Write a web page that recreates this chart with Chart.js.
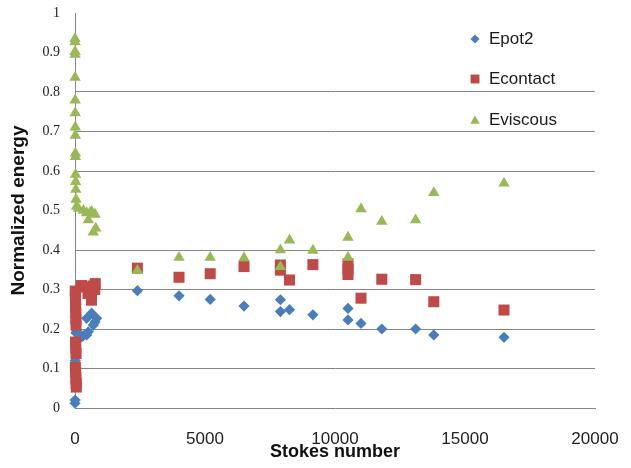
<!DOCTYPE html>
<html>
<head>
<meta charset="utf-8">
<script src="https://cdn.jsdelivr.net/npm/chart.js@4/dist/chart.umd.min.js"></script>
<style>
  html, body { margin: 0; padding: 0; background: #ffffff; }
  #wrap { width: 631px; height: 468px; }
</style>
</head>
<body>
<div id="wrap"><canvas id="chart" width="631" height="468"></canvas></div>
<script>
// Normalized energy components versus Stokes number

const seriesNames = ['Epot2', 'Econtact', 'Eviscous'];

const epot2Stokes = [2, 5, 10, 40, 65, 260, 320, 450, 450, 510, 640, 705, 770, 835,
  2400, 4000, 5200, 6500, 7900, 7900, 8250, 9150, 10500, 10500, 11000, 11800, 13100, 13800, 16500];
const epot2Energy = [0.012, 0.02, 0.12, 0.19, 0.195, 0.18, 0.183, 0.185, 0.227, 0.193, 0.24, 0.21, 0.218, 0.227,
  0.297, 0.284, 0.275, 0.258, 0.274, 0.244, 0.249, 0.236, 0.252, 0.223, 0.214, 0.2, 0.2, 0.185, 0.179];

const econtactStokes = [10, 15, 20, 25, 30, 35, 40, 20, 30, 40, 15, 25, 35, 45, 50,
  250, 385, 500, 635, 690, 760, 780,
  2400, 4000, 5200, 6500, 7900, 7900, 8250, 9150, 10500, 10500, 10500, 11000, 11800, 13100, 13800, 16500];
const econtactEnergy = [0.296, 0.285, 0.27, 0.255, 0.24, 0.225, 0.21, 0.167, 0.152, 0.138, 0.103, 0.09, 0.075, 0.062, 0.053,
  0.31, 0.306, 0.29, 0.273, 0.309, 0.30, 0.315,
  0.354, 0.331, 0.34, 0.358, 0.362, 0.349, 0.324, 0.363, 0.365, 0.35, 0.338, 0.278, 0.326, 0.325, 0.269, 0.248];

const eviscousStokes = [1, 2, 3, 4, 5, 6, 8, 10, 12, 15, 18, 20, 25, 30, 40, 60, 130, 320, 450, 580, 640, 770, 510, 700, 800,
  2400, 4000, 5200, 6500, 7900, 7900, 8250, 9150, 10500, 10500, 11000, 11800, 13100, 13800, 16500];
const eviscousEnergy = [0.935, 0.927, 0.902, 0.895, 0.837, 0.779, 0.747, 0.711, 0.69, 0.645, 0.636, 0.591, 0.573, 0.553, 0.528, 0.51, 0.505, 0.50, 0.494, 0.495, 0.497, 0.49, 0.476, 0.445, 0.455,
  0.348, 0.381, 0.381, 0.38, 0.40, 0.358, 0.425, 0.399, 0.432, 0.381, 0.504, 0.472, 0.476, 0.545, 0.569];

const xTickValues = [0, 5000, 10000, 15000, 20000];
const yTickValues = [0, 0.1, 0.2, 0.3, 0.4, 0.5, 0.6, 0.7, 0.8, 0.9, 1];
// horizontal guide lines that are left out
const hiddenGridValues = [0, 0.5, 0.9, 1];

const toPoints = (xs, ys) => xs.map((x, i) => ({ x: x, y: ys[i] }));

const colors = { blue: '#4A7EBB', red: '#BE4B48', green: '#98B954' };
const gridColor = '#868686';

const legendPlugin = {
  id: 'sideLegend',
  afterDraw(chart) {
    const ctx = chart.ctx;
    const entries = [
      { ds: chart.data.datasets[0], y: 39 },
      { ds: chart.data.datasets[1], y: 79 },
      { ds: chart.data.datasets[2], y: 120 }
    ];
    ctx.save();
    entries.forEach(e => {
      const r = e.ds.pointStyle === 'rectRot' ? 4.5 : (e.ds.pointStyle === 'rect' ? 6.3 : 5.5);
      ctx.fillStyle = e.ds.backgroundColor;
      ctx.strokeStyle = e.ds.backgroundColor;
      ctx.lineWidth = 0;
      Chart.helpers.drawPoint(ctx, { pointStyle: e.ds.pointStyle, radius: r, borderWidth: 0, rotation: 0 }, 475, e.y + (e.ds.pointStyle === 'triangle' ? 1 : 0));
      ctx.fillStyle = '#1a1a1a';
      ctx.font = '17px "Liberation Sans", Arial, sans-serif';
      ctx.textBaseline = 'middle';
      ctx.textAlign = 'left';
      ctx.fillText(e.ds.label, 489, e.y);
    });
    ctx.restore();
  }
};

new Chart(document.getElementById('chart'), {
  type: 'scatter',
  data: {
    datasets: [
      {
        label: seriesNames[0],
        data: toPoints(epot2Stokes, epot2Energy),
        pointStyle: 'rectRot',
        pointRadius: 5.6,
        pointHoverRadius: 5.6,
        backgroundColor: colors.blue,
        borderColor: colors.blue,
        borderWidth: 0,
        order: 3,
        clip: false
      },
      {
        label: seriesNames[1],
        data: toPoints(econtactStokes, econtactEnergy),
        pointStyle: 'rect',
        pointRadius: 7.8,
        pointHoverRadius: 7.8,
        backgroundColor: colors.red,
        borderColor: colors.red,
        borderWidth: 0,
        order: 2,
        clip: false
      },
      {
        label: seriesNames[2],
        data: toPoints(eviscousStokes, eviscousEnergy),
        pointStyle: 'triangle',
        pointRadius: 6.6,
        pointHoverRadius: 6.6,
        backgroundColor: colors.green,
        borderColor: colors.green,
        borderWidth: 0,
        order: 1,
        clip: false
      }
    ]
  },
  options: {
    responsive: false,
    animation: false,
    devicePixelRatio: 1,
    events: [],
    layout: { padding: { left: 0, right: 36, top: 13, bottom: 0 } },
    plugins: {
      legend: { display: false },
      tooltip: { enabled: false }
    },
    scales: {
      x: {
        type: 'linear',
        min: xTickValues[0],
        max: xTickValues[xTickValues.length - 1],
        afterBuildTicks(scale) { scale.ticks = xTickValues.map(v => ({ value: v })); },
        afterFit(scale) {
          scale.height = 60;
          scale.paddingLeft = 0;
          scale.paddingRight = 0;
        },
        ticks: {
          padding: 21,
          color: '#222222',
          font: { family: '"Liberation Sans", Arial, sans-serif', size: 17 },
          callback: v => String(v),
          maxRotation: 0
        },
        grid: { display: false, drawTicks: false },
        border: { display: true, color: gridColor, width: 1 },
        title: {
          display: true,
          text: 'Stokes number',
          color: '#111111',
          font: { family: '"Liberation Sans", Arial, sans-serif', size: 18, weight: 'bold' },
          padding: { top: 0, bottom: 5 }
        }
      },
      y: {
        type: 'linear',
        min: yTickValues[0],
        max: yTickValues[yTickValues.length - 1],
        afterBuildTicks(scale) { scale.ticks = yTickValues.map(v => ({ value: v })); },
        afterFit(scale) {
          scale.width = 75;
          scale.paddingTop = 0;
          scale.paddingBottom = 0;
        },
        ticks: {
          padding: 15,
          color: '#222222',
          font: { family: '"Liberation Serif", "Times New Roman", serif', size: 14 },
          callback: v => String(Math.round(v * 10) / 10)
        },
        grid: {
          drawTicks: false,
          lineWidth: 1,
          color: (c) => {
            const v = c.tick ? c.tick.value : null;
            if (v === null) return gridColor;
            return hiddenGridValues.some(h => Math.abs(h - v) < 1e-9) ? 'rgba(0,0,0,0)' : gridColor;
          }
        },
        border: { display: true, color: gridColor, width: 1 },
        title: {
          display: true,
          text: 'Normalized energy',
          color: '#111111',
          font: { family: '"Liberation Sans", Arial, sans-serif', size: 19, weight: 'bold' },
          padding: { top: 7, bottom: 0 }
        }
      }
    }
  },
  plugins: [legendPlugin]
});
</script>
</body>
</html>
